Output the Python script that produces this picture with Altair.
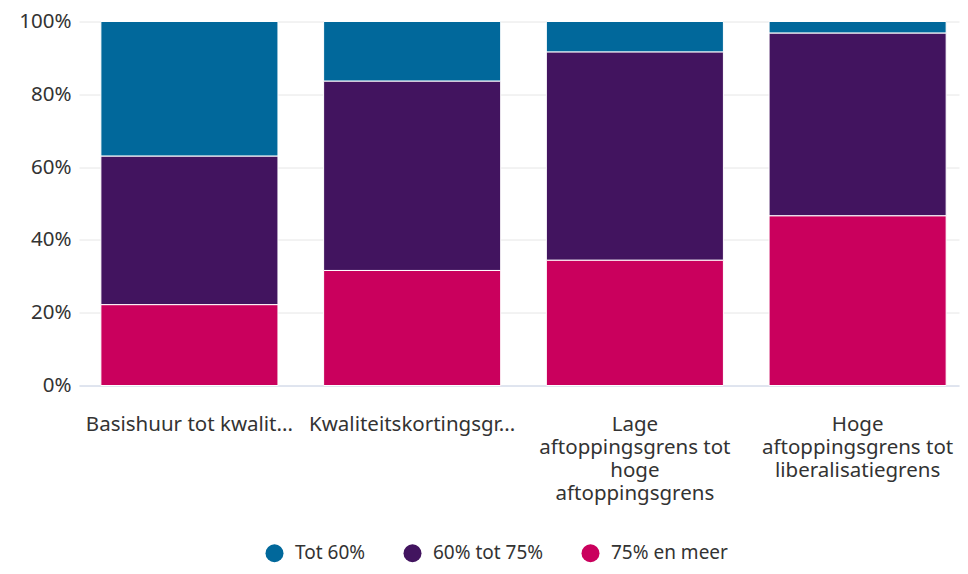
import altair as alt
import pandas as pd

categories = [
    "Basishuur tot kwalit...",
    "Kwaliteitskortingsgr...",
    "Lage|aftoppingsgrens tot|hoge|aftoppingsgrens",
    "Hoge|aftoppingsgrens tot|liberalisatiegrens",
]
series = ["Tot 60%", "60% tot 75%", "75% en meer"]
colors = ["#01689B", "#42145F", "#CA005D"]

tot_60 = [37.0, 16.4, 8.4, 3.2]
van_60_tot_75 = [40.8, 52.0, 57.2, 50.2]
vanaf_75 = [22.2, 31.6, 34.4, 46.6]

rows = []
for i, c in enumerate(categories):
    rows.append({"cat": c, "serie": series[0], "waarde": tot_60[i], "ord": 2})
    rows.append({"cat": c, "serie": series[1], "waarde": van_60_tot_75[i], "ord": 1})
    rows.append({"cat": c, "serie": series[2], "waarde": vanaf_75[i], "ord": 0})
df = pd.DataFrame(rows)

FONT = "Noto Sans"

chart = (
    alt.Chart(df)
    .mark_bar(stroke="white", strokeWidth=1)
    .encode(
        x=alt.X(
            "cat:N",
            sort=categories,
            title=None,
            scale=alt.Scale(paddingInner=0.205, paddingOuter=0.078, align=0.63),
            axis=alt.Axis(
                labelAngle=0,
                labelExpr="split(datum.label, '|')",
                labelFontSize=20.5,
                labelLineHeight=23,
                labelPadding=29,
                labelColor="#333333",
                labelFont=FONT,
                labelLimit=400,
                ticks=False,
                domain=True,
                domainColor="#ccd6eb",
                domainWidth=1,
                grid=False,
            ),
        ),
        y=alt.Y(
            "waarde:Q",
            stack="zero",
            title=None,
            scale=alt.Scale(domain=[0, 100], nice=False),
            axis=alt.Axis(
                values=[0, 20, 40, 60, 80, 100],
                labelExpr="datum.value + '%'",
                labelFontSize=20.5,
                labelColor="#333333",
                labelFont=FONT,
                labelPadding=8,
                ticks=False,
                domain=False,
                grid=True,
                gridColor="#e6e6e6",
                gridWidth=1,
            ),
        ),
        color=alt.Color(
            "serie:N",
            scale=alt.Scale(domain=series, range=colors),
            legend=alt.Legend(
                title=None,
                orient="none",
                direction="horizontal",
                legendX=186,
                legendY=522,
                symbolType="circle",
                symbolSize=324,
                symbolStrokeWidth=0,
                labelFontSize=19,
                labelFont=FONT,
                labelColor="#333333",
                labelOffset=11,
                columnPadding=37,
                padding=0,
            ),
        ),
        order=alt.Order("ord:Q", sort="ascending"),
    )
    .properties(
        width=880,
        height=364,
        autosize=alt.AutoSizeParams(type="none"),
        padding={"left": 71, "top": 13.5, "right": 1, "bottom": 180.5},
    )
    .configure_view(stroke=None)
)

chart.save("out.html", embed_options={"renderer": "svg", "actions": False})
